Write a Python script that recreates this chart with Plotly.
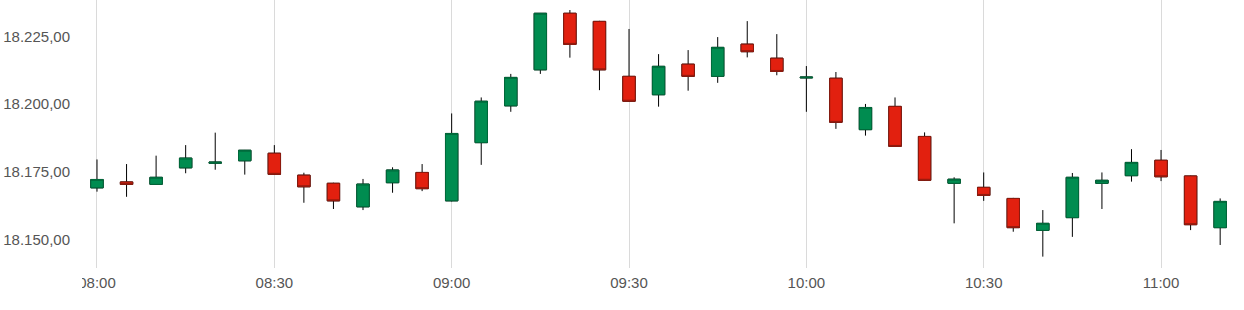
import plotly.graph_objects as go

day = "2024-01-02 "
times = ["08:00", "08:05", "08:10", "08:15", "08:20", "08:25", "08:30", "08:35",
         "08:40", "08:45", "08:50", "08:55", "09:00", "09:05", "09:10", "09:15",
         "09:20", "09:25", "09:30", "09:35", "09:40", "09:45", "09:50", "09:55",
         "10:00", "10:05", "10:10", "10:15", "10:20", "10:25", "10:30", "10:35",
         "10:40", "10:45", "10:50", "10:55", "11:00", "11:05", "11:10"]

opens = [18169.1, 18171.3, 18170.4, 18176.5, 18178.2, 18179.1, 18181.9, 18173.8,
         18170.8, 18162.1, 18171.0, 18174.8, 18164.3, 18185.8, 18199.4, 18212.7,
         18233.6, 18230.6, 18210.3, 18203.5, 18214.8, 18210.3, 18222.2, 18217.0,
         18209.7, 18209.6, 18190.6, 18199.2, 18188.1, 18170.8, 18169.3, 18165.2,
         18153.4, 18158.1, 18170.8, 18173.6, 18179.3, 18173.5, 18154.4]
highs = [18179.6, 18177.9, 18181.0, 18184.9, 18189.5, 18183.1, 18184.9, 18174.7,
         18171.0, 18172.4, 18176.7, 18177.9, 18196.6, 18202.5, 18211.2, 18233.7,
         18234.8, 18230.8, 18227.8, 18218.5, 18220.0, 18224.8, 18230.7, 18225.9,
         18214.1, 18211.9, 18200.1, 18202.5, 18189.6, 18173.0, 18174.8, 18165.4,
         18160.9, 18174.6, 18174.8, 18183.4, 18183.1, 18173.6, 18165.2]
lows = [18167.7, 18165.8, 18170.2, 18174.5, 18175.8, 18174.0, 18173.9, 18163.6,
        18161.3, 18160.9, 18167.3, 18167.9, 18164.1, 18177.6, 18197.2, 18211.2,
        18217.2, 18205.2, 18201.0, 18199.1, 18205.0, 18207.9, 18217.3, 18210.7,
        18197.2, 18190.9, 18188.4, 18184.2, 18171.7, 18156.0, 18164.3, 18152.9,
        18143.7, 18151.0, 18161.3, 18171.4, 18171.6, 18153.5, 18148.0]
closes = [18172.2, 18170.4, 18173.0, 18180.1, 18178.6, 18183.0, 18174.1, 18169.5,
          18164.3, 18170.5, 18175.7, 18168.8, 18189.2, 18201.1, 18209.9, 18233.6,
          18222.1, 18212.7, 18201.1, 18214.0, 18210.3, 18221.0, 18219.4, 18212.1,
          18210.0, 18193.3, 18198.8, 18184.4, 18171.9, 18172.3, 18166.3, 18154.4,
          18156.0, 18173.0, 18171.9, 18178.5, 18173.2, 18155.5, 18164.1]

y_ticks = [18150, 18175, 18200, 18225]

x = [day + t for t in times]
body_top = [max(o, c) for o, c in zip(opens, closes)]
body_bot = [min(o, c) for o, c in zip(opens, closes)]

GREEN_FILL = "#008c50"
GREEN_LINE = "#006b3c"
RED_FILL = "#e2200f"
RED_LINE = "#8e1a0e"

fig = go.Figure()
# wicks (black)
fig.add_trace(go.Candlestick(
    x=x, open=opens, high=highs, low=lows, close=closes,
    increasing=dict(line=dict(color="#000000", width=1), fillcolor="#000000"),
    decreasing=dict(line=dict(color="#000000", width=1), fillcolor="#000000"),
    whiskerwidth=0, showlegend=False, hoverinfo="skip",
))
# bodies (coloured)
fig.add_trace(go.Candlestick(
    x=x, open=opens, high=body_top, low=body_bot, close=closes,
    increasing=dict(line=dict(color=GREEN_LINE, width=1), fillcolor=GREEN_FILL),
    decreasing=dict(line=dict(color=RED_LINE, width=1), fillcolor=RED_FILL),
    whiskerwidth=0, showlegend=False,
))

fig.update_layout(
    width=1244, height=310,
    margin=dict(l=83, r=0, t=0, b=42),
    paper_bgcolor="white", plot_bgcolor="white",
    separators=",.",
    boxgap=0.4, boxgroupgap=0.3,
    font=dict(family="Liberation Sans, Arial, sans-serif", size=15, color="#555555"),
    showlegend=False,
    xaxis=dict(
        type="date",
        range=[day + "07:57:38", day + "11:14:02"],
        tickformat="%H:%M", tick0=day + "08:00", dtick=30 * 60 * 1000,
        showgrid=True, gridcolor="#dadada", gridwidth=1,
        zeroline=False, showline=False,
        ticks="outside", ticklen=1, tickcolor="rgba(0,0,0,0)",
        rangeslider=dict(visible=False),
        fixedrange=True,
    ),
    yaxis=dict(
        range=[18139.5, 18238.5],
        tickvals=y_ticks, tickformat=",.2f",
        showgrid=False, zeroline=False, showline=False,
        ticks="outside", ticklen=9, tickcolor="rgba(0,0,0,0)",
        fixedrange=True,
    ),
    shapes=[dict(type="rect", xref="paper", yref="paper",
                 x0=-0.08, x1=-0.0008, y0=-0.2, y1=-0.005,
                 fillcolor="white", line=dict(width=0), layer="above")],
)

fig.write_html("out.html")
